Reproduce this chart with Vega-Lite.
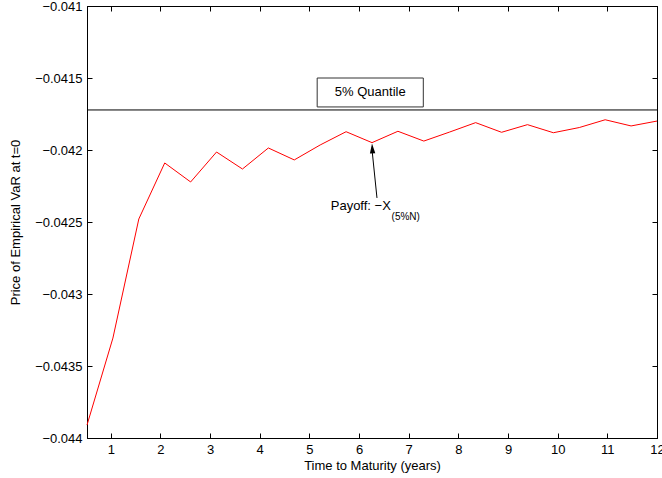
{
  "$schema": "https://vega.github.io/schema/vega-lite/v6.json",
  "width": 570,
  "height": 432,
  "autosize": "none",
  "padding": {"left": 87, "top": 6, "right": 5, "bottom": 40},
  "background": "white",
  "config": {
    "font": "Liberation Sans",
    "view": {"stroke": "black", "strokeWidth": 1},
    "axis": {
      "grid": false,
      "domainColor": "black",
      "tickColor": "black",
      "labelColor": "black",
      "titleColor": "black",
      "labelFontSize": 13,
      "titleFontSize": 13,
      "titleFontWeight": "normal",
      "tickSize": -5,
      "labelPadding": 10
    }
  },
  "data": {
    "values": [
      {"t": 0.5217, "price": -0.04391},
      {"t": 1.0435, "price": -0.043306},
      {"t": 1.5652, "price": -0.042479},
      {"t": 2.0870, "price": -0.04209},
      {"t": 2.6087, "price": -0.042222},
      {"t": 3.1304, "price": -0.042014},
      {"t": 3.6522, "price": -0.042132},
      {"t": 4.1739, "price": -0.041986},
      {"t": 4.6957, "price": -0.042069},
      {"t": 5.2174, "price": -0.041965},
      {"t": 5.7391, "price": -0.041873},
      {"t": 6.2609, "price": -0.041949},
      {"t": 6.7826, "price": -0.04187},
      {"t": 7.3043, "price": -0.041938},
      {"t": 7.8261, "price": -0.041875},
      {"t": 8.3478, "price": -0.04181},
      {"t": 8.8696, "price": -0.041877},
      {"t": 9.3913, "price": -0.041824},
      {"t": 9.9130, "price": -0.04188},
      {"t": 10.4348, "price": -0.041844},
      {"t": 10.9565, "price": -0.04179},
      {"t": 11.4783, "price": -0.041833},
      {"t": 12.0, "price": -0.041799}
    ]
  },
  "resolve": {"axis": {"x": "independent", "y": "independent"}},
  "layer": [
    {
      "mark": {"type": "line", "color": "#ff0000", "strokeWidth": 1},
      "encoding": {
        "x": {
          "field": "t", "type": "quantitative",
          "scale": {"domain": [0.5217, 12], "nice": false, "zero": false},
          "axis": {"values": [1,2,3,4,5,6,7,8,9,10,11,12], "title": "Time to Maturity (years)", "titlePadding": 3, "labelFlush": false}
        },
        "y": {
          "field": "price", "type": "quantitative",
          "scale": {"domain": [-0.044, -0.041], "nice": false, "zero": false},
          "axis": {"values": [-0.044, -0.0435, -0.043, -0.0425, -0.042, -0.0415, -0.041], "format": ".4~f", "title": "Price of Empirical VaR at t=0", "titlePadding": 12, "labelFlush": false}
        }
      }
    },
    {
      "mark": {"type": "line", "opacity": 0},
      "encoding": {
        "x": {"field": "t", "type": "quantitative", "axis": {"orient": "top", "values": [1,2,3,4,5,6,7,8,9,10,11,12], "labels": false, "title": null}},
        "y": {"field": "price", "type": "quantitative", "axis": {"orient": "right", "values": [-0.044, -0.0435, -0.043, -0.0425, -0.042, -0.0415, -0.041], "labels": false, "title": null}}
      }
    },
    {
      "data": {"values": [{}]},
      "mark": {"type": "rule", "color": "black", "strokeWidth": 1},
      "encoding": {"y": {"datum": -0.041722, "type": "quantitative", "axis": null}}
    },
    {
      "data": {"values": [{}]},
      "mark": {"type": "rect", "fill": "white", "stroke": "#333333", "strokeWidth": 1},
      "encoding": {
        "x": {"datum": 5.157, "type": "quantitative", "axis": null},
        "x2": {"datum": 7.294},
        "y": {"datum": -0.0415, "type": "quantitative", "axis": null},
        "y2": {"datum": -0.041701}
      }
    },
    {
      "data": {"values": [{"label": "5% Quantile"}]},
      "mark": {"type": "text", "fontSize": 13, "align": "center", "baseline": "middle", "color": "black"},
      "encoding": {
        "x": {"datum": 6.225, "type": "quantitative", "axis": null},
        "y": {"datum": -0.041597, "type": "quantitative", "axis": null},
        "text": {"field": "label"}
      }
    },
    {
      "data": {"values": [{}]},
      "mark": {"type": "rule", "color": "black", "strokeWidth": 1},
      "encoding": {
        "x": {"datum": 6.361, "type": "quantitative", "axis": null},
        "y": {"datum": -0.042333, "type": "quantitative", "axis": null},
        "x2": {"datum": 6.262},
        "y2": {"datum": -0.042}
      }
    },
    {
      "data": {"values": [{}]},
      "mark": {"type": "point", "shape": "M0,0L-0.6,2.2L0.6,2.2Z", "filled": true, "color": "black", "opacity": 1, "size": 81, "angle": -3.5},
      "encoding": {
        "x": {"datum": 6.2609, "type": "quantitative", "axis": null},
        "y": {"datum": -0.041955, "type": "quantitative", "axis": null}
      }
    },
    {
      "data": {"values": [{"label": "Payoff: \u2212X"}]},
      "mark": {"type": "text", "fontSize": 13, "align": "left", "baseline": "middle", "color": "black"},
      "encoding": {
        "x": {"datum": 5.43, "type": "quantitative", "axis": null},
        "y": {"datum": -0.042389, "type": "quantitative", "axis": null},
        "text": {"field": "label"}
      }
    },
    {
      "data": {"values": [{"label": "(5%N)"}]},
      "mark": {"type": "text", "fontSize": 10, "align": "left", "baseline": "middle", "color": "black"},
      "encoding": {
        "x": {"datum": 6.655, "type": "quantitative", "axis": null},
        "y": {"datum": -0.042465, "type": "quantitative", "axis": null},
        "text": {"field": "label"}
      }
    }
  ]
}
